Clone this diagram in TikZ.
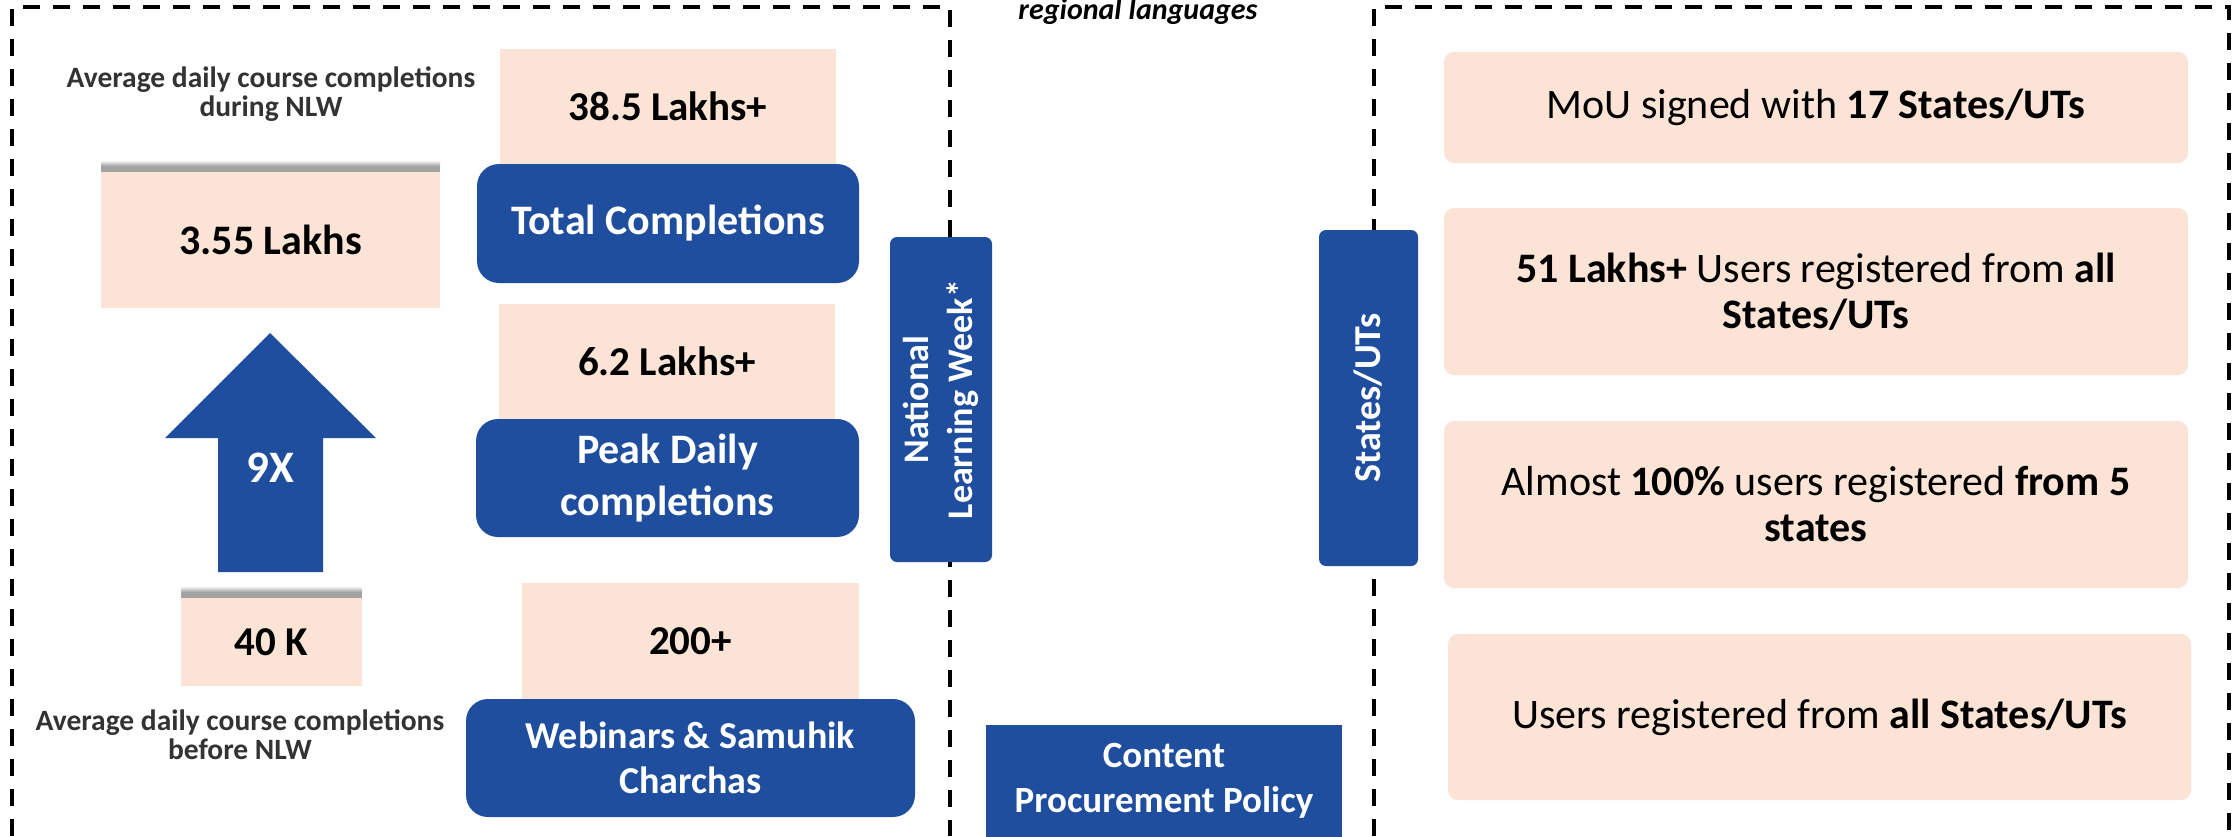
\documentclass[tikz,border=0pt]{standalone}
\usepackage{fontspec}
\setmainfont{Carlito}
\definecolor{nblue}{HTML}{1F4E9F}
\definecolor{peach}{HTML}{FBE4D5}
\definecolor{lblgray}{HTML}{333333}
\definecolor{shadowgray}{HTML}{A3A3A3}
\tikzset{
  peachbox/.style={fill=peach, inner sep=0pt, outer sep=0pt, text=black, font=\bfseries\fontsize{41}{50}\selectfont},
  bluebox/.style={fill=nblue, rounded corners=22pt, inner sep=0pt, outer sep=0pt, text=white, align=center, font=\bfseries\fontsize{42}{52}\selectfont},
  vbar/.style={fill=nblue, rounded corners=7pt, inner sep=0pt, outer sep=0pt, text=white, align=center, font=\bfseries\fontsize{36}{44}\selectfont},
  infobox/.style={fill=peach, rounded corners=10pt, minimum width=744pt, inner sep=0pt, outer sep=0pt, align=center, text=black, font=\fontsize{42}{46}\selectfont},
  lbl/.style={text=lblgray, align=center, inner sep=0pt, font=\bfseries\fontsize{29.5}{29}\selectfont},
  frame/.style={line width=4pt, dash pattern=on 17pt off 13pt},
  fadeshadow/.style={top color=white, bottom color=shadowgray},
  solidshadow/.style={fill=shadowgray}
}
\begin{document}
\begin{tikzpicture}[x=1pt,y=-1pt]
\useasboundingbox[fill=white] (0,0) rectangle (2236,836);

% frames
\coordinate (lf1) at (12,836);
\coordinate (lf2) at (12,7);
\coordinate (lf3) at (950,7);
\coordinate (lf4) at (950,836);
\coordinate (rf1) at (1374,836);
\coordinate (rf2) at (1374,7);
\coordinate (rf3) at (2229,7);
\coordinate (rf4) at (2229,836);
\draw[frame] (lf1) -- (lf2) -- (lf3) -- (lf4);
\draw[frame] (rf1) -- (rf2) -- (rf3) -- (rf4);

% left section
\node[lbl] (lbl1) at (271,94) {Average daily course completions\\during NLW};
\node[peachbox, minimum width=336pt, minimum height=115pt] (v1) at (668,106.5) {38.5 Lakhs+};
\node[bluebox, minimum width=382pt, minimum height=119pt] (b1) at (668,223.5) {Total Completions};

\shade[fadeshadow] (101,160) rectangle (440,166);
\fill[solidshadow] (101,166) rectangle (440,172.5);
\node[peachbox, minimum width=339pt, minimum height=136pt, font=\bfseries\fontsize{42}{50}\selectfont] (big) at (270.5,240) {3.55 Lakhs};

\fill[nblue] (218,572) -- (218,438) -- (165,438) -- (270,333) -- (376,438) -- (323,438) -- (323,572) -- cycle;
\node[text=white, font=\bfseries\fontsize{45}{50}\selectfont] (nx) at (270,468) {9X};

\shade[fadeshadow] (181,586) rectangle (362,592);
\fill[solidshadow] (181,592) rectangle (362,598.5);
\node[peachbox, minimum width=181pt, minimum height=88pt] (small) at (271.5,642) {40 K};
\node[lbl] (lbl2) at (240,735) {Average daily course completions\\before NLW};

\node[peachbox, minimum width=336pt, minimum height=115pt] (v2) at (667,361.5) {6.2 Lakhs+};
\node[bluebox, minimum width=383pt, minimum height=118pt] (b2) at (667.5,478) {Peak Daily\\completions};

\node[peachbox, minimum width=337pt, minimum height=116pt] (v3) at (690.5,641) {200+};
\node[bluebox, minimum width=449pt, minimum height=118pt, font=\bfseries\fontsize{38}{45}\selectfont] (b3) at (690.5,758) {Webinars \& Samuhik\\Charchas};

% middle
\node[anchor=base, inner sep=0pt, font=\bfseries\itshape\fontsize{30}{34}\selectfont] (reg) at (1138,19) {regional languages};
\node[vbar, rotate=90, minimum width=325pt, minimum height=102pt] (nlw) at (941,399.5) {National\\Learning Week*};
\node[vbar, rotate=90, minimum width=336pt, minimum height=99pt, font=\bfseries\fontsize{38}{44}\selectfont] (st) at (1368.5,398) {States/UTs};
\fill[nblue] (986,820) rectangle (1342,840);
\node[fill=nblue, inner sep=0pt, outer sep=0pt, minimum width=356pt, minimum height=111pt, text=white, align=center, font=\bfseries\fontsize{37}{45}\selectfont] (cpp) at (1164,780.5) {Content\\Procurement Policy};

% right section
\node[infobox, minimum height=111pt] (r1) at (1816,107.5) {MoU signed with \textbf{17 States/UTs}};
\node[infobox, minimum height=167pt] (r2) at (1816,291.5) {\textbf{51 Lakhs+} Users registered from \textbf{all}\\\textbf{States/UTs}};
\node[infobox, minimum height=167pt] (r3) at (1816,504.5) {Almost \textbf{100\%} users registered \textbf{from 5}\\\textbf{states}};
\node[infobox, minimum height=166pt, minimum width=743pt] (r4) at (1819.5,717) {Users registered from \textbf{all States/UTs}};
\end{tikzpicture}
\end{document}
